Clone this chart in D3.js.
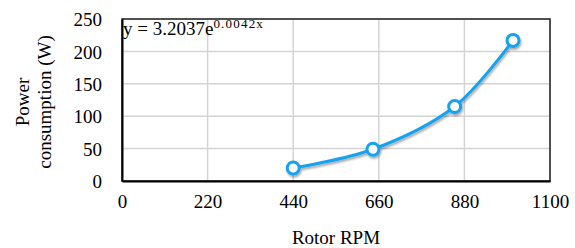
<!DOCTYPE html>
<html>
<head>
<meta charset="utf-8">
<script src="https://cdn.jsdelivr.net/npm/d3@7"></script>
</head>
<body style="margin:0;background:#fff">
<div id="chart"></div>
<script>
// data
var rpm = [440, 645, 855, 1005];
var power = [20, 49, 115, 217];
var xTicks = [0, 220, 440, 660, 880, 1100];
var yTicks = [0, 50, 100, 150, 200, 250];

var FONT = "Liberation Serif";
var width = 575, height = 248;
var margin = {top: 19, right: 25, bottom: 67, left: 122};
var w = width - margin.left - margin.right;
var h = height - margin.top - margin.bottom;

var svg = d3.select("#chart").append("svg")
    .attr("width", width)
    .attr("height", height);

var defs = svg.append("defs");
var f = defs.append("filter").attr("id", "shadow")
    .attr("x", "-10%").attr("y", "-10%").attr("width", "130%").attr("height", "140%");
f.append("feGaussianBlur").attr("in", "SourceAlpha").attr("stdDeviation", 1.2);
f.append("feOffset").attr("dx", 1).attr("dy", 2).attr("result", "b");
f.append("feComponentTransfer").append("feFuncA").attr("type", "linear").attr("slope", 0.35);
var m = f.append("feMerge");
m.append("feMergeNode");
m.append("feMergeNode").attr("in", "SourceGraphic");

var x = d3.scaleLinear().domain([0, 1100]).range([0, w]);
var y = d3.scaleLinear().domain([0, 250]).range([h, 0]);

var g = svg.append("g").attr("transform", "translate(" + margin.left + "," + margin.top + ")");

// grid
g.append("g").selectAll("line").data(yTicks.slice(1)).enter().append("line")
    .attr("x1", 0).attr("x2", w)
    .attr("y1", function (d) { return y(d); }).attr("y2", function (d) { return y(d); })
    .attr("stroke", "#d4d4d4").attr("stroke-width", 1.5);
g.append("g").selectAll("line").data(xTicks.slice(1)).enter().append("line")
    .attr("y1", 0).attr("y2", h)
    .attr("x1", function (d) { return x(d); }).attr("x2", function (d) { return x(d); })
    .attr("stroke", "#d4d4d4").attr("stroke-width", 1.5);

// frame
g.append("rect").attr("width", w).attr("height", h)
    .attr("fill", "none").attr("stroke", "#222").attr("stroke-width", 1.5);

// axes
var xAxis = d3.axisBottom(x).tickValues(xTicks).tickSize(0).tickPadding(14).tickFormat(d3.format("d"));
var yAxis = d3.axisLeft(y).tickValues(yTicks).tickSize(0).tickPadding(20).tickFormat(d3.format("d"));

var gx = g.append("g").attr("transform", "translate(0," + h + ")").call(xAxis);
var gy = g.append("g").call(yAxis);
[gx, gy].forEach(function (a) {
    a.select(".domain").attr("stroke", "#000").attr("stroke-width", 2);
});
gx.selectAll("text").attr("dy", "0.71em");
gy.selectAll("text").attr("dy", "0.35em");

// series
var pts = rpm.map(function (d, i) { return [d, power[i]]; });
var line = d3.line()
    .x(function (d) { return x(d[0]); })
    .y(function (d) { return y(d[1]); })
    .curve(d3.curveCatmullRom.alpha(0.5));

var color = "#12a2f0";
var series = g.append("g").attr("filter", "url(#shadow)");
series.append("path").datum(pts)
    .attr("d", line)
    .attr("fill", "none")
    .attr("stroke", color)
    .attr("stroke-width", 3);
series.selectAll("circle").data(pts).enter().append("circle")
    .attr("cx", function (d) { return x(d[0]); })
    .attr("cy", function (d) { return y(d[1]); })
    .attr("r", 6)
    .attr("fill", "#fff")
    .attr("stroke", color)
    .attr("stroke-width", 3);

// equation
var eq = g.append("text").attr("x", 1).attr("y", 16);
eq.append("tspan").text("y = 3.2037e");
eq.append("tspan").attr("class", "sup").attr("dy", -7).text("0.0042x");

// axis titles
svg.append("text")
    .attr("x", margin.left + w / 2).attr("y", 244)
    .attr("text-anchor", "middle")
    .text("Rotor RPM");

var yt = svg.append("text")
    .attr("transform", "translate(0," + (margin.top + h / 2 + 2) + ") rotate(-90)")
    .attr("text-anchor", "middle");
yt.append("tspan").attr("x", 0).attr("y", 29).text("Power");
yt.append("tspan").attr("x", 0).attr("y", 51).text("consumption (W)");

// every text: serif face set directly on the element
svg.selectAll("text")
    .attr("font-family", FONT)
    .attr("font-size", 19)
    .attr("fill", "#000");
svg.selectAll("tspan.sup")
    .attr("font-family", FONT)
    .attr("font-size", 13)
    .attr("letter-spacing", 1.2);
</script>
</body>
</html>
